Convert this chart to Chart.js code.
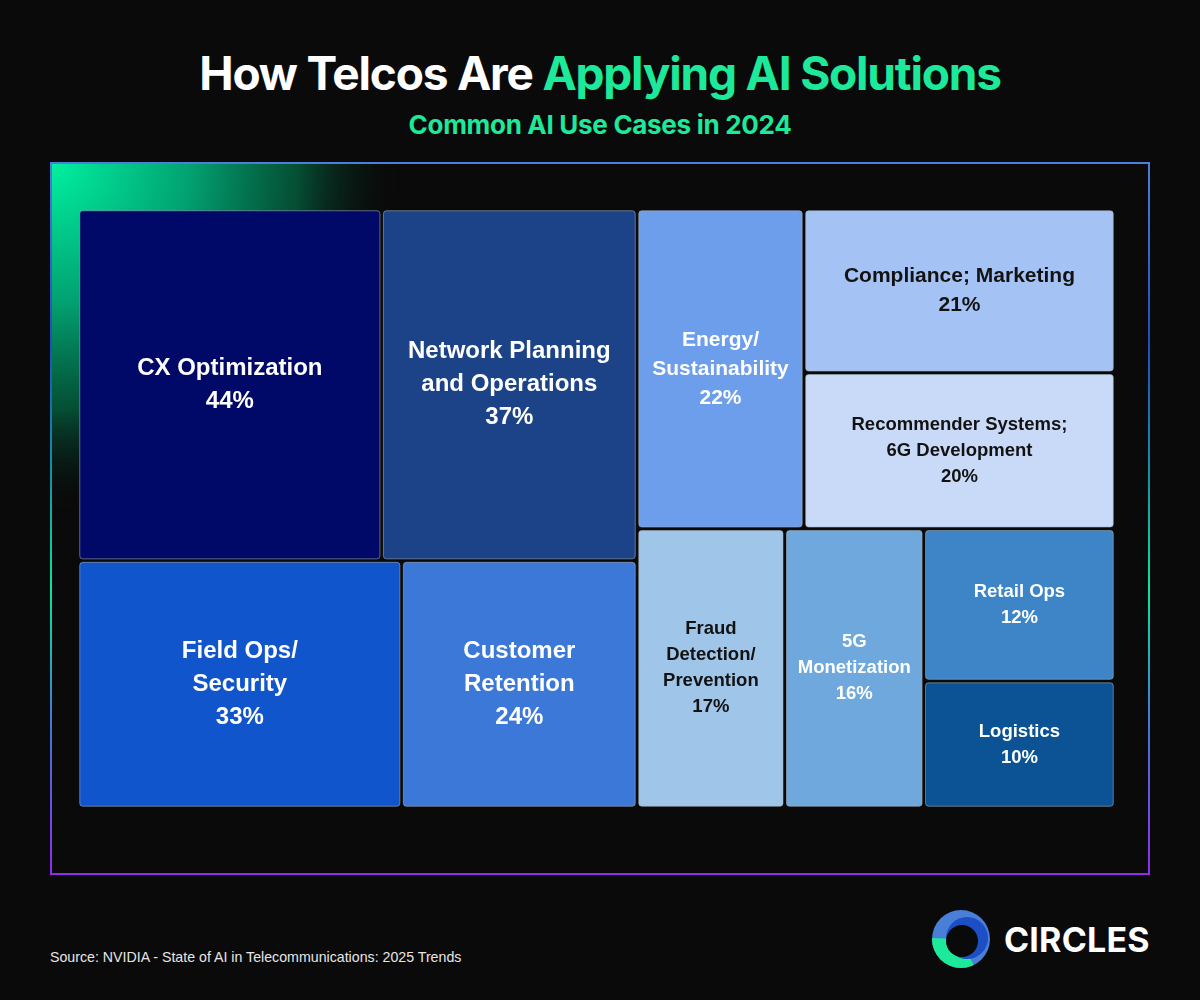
<!DOCTYPE html>
<html>
<head>
<meta charset="utf-8">
<script src="https://cdn.jsdelivr.net/npm/chart.js@4"></script>
<style>
  body { margin: 0; background: #0a0a0a; width: 1200px; height: 1000px; position: relative; overflow: hidden; }
  .title { position: absolute; left: 0; width: 1200px; top: 44px; text-align: center; font-family: Inter, sans-serif; font-weight: 700; font-size: 46px; letter-spacing: -1.2px; color: #fff; line-height: 58px; }
  .title span { color: #1de99b; }
  .subtitle { position: absolute; left: 0; width: 1200px; top: 108px; text-align: center; font-family: Inter, sans-serif; font-weight: 700; font-size: 26px; letter-spacing: -0.3px; color: #1de99b; line-height: 34px; }
  #wrap { position: absolute; left: 50px; top: 162px; width: 1100px; height: 713px; }
  .source { position: absolute; left: 50px; top: 949px; font-family: "Liberation Sans", Arial, sans-serif; font-size: 14.2px; color: #e6e6e6; }
  .logo { position: absolute; left: 930px; top: 908px; height: 62px; display: flex; align-items: center; }
  .logo span { font-family: Inter, sans-serif; font-weight: 700; font-size: 34px; color: #fff; margin-left: 12px; letter-spacing: 0.2px; }
</style>
</head>
<body>
<div class="title">How Telcos Are <span>Applying AI Solutions</span></div>
<div class="subtitle">Common AI Use Cases in 2024</div>
<div id="wrap"><canvas id="treemapChart"></canvas></div>
<div class="source">Source: NVIDIA - State of AI in Telecommunications: 2025 Trends</div>
<div class="logo">
  <svg width="62" height="62" viewBox="0 0 62 62">
    <defs><clipPath id="bl"><path d="M0 30 L31 31 L46 62 L0 62 Z"/></clipPath></defs>
    <circle cx="31" cy="31" r="29" fill="#4a7fd8"/>
    <circle cx="31" cy="31" r="29" fill="#1de99b" clip-path="url(#bl)"/>
    <circle cx="37" cy="30" r="21" fill="#1c4fc4"/>
    <circle cx="32" cy="33" r="16" fill="#0a0a0a"/>
  </svg>
  <span>CIRCLES</span>
</div>

<script>
document.addEventListener("DOMContentLoaded", function () {

    // data
    const categories = [
        ["CX Optimization"],
        ["Network Planning", "and Operations"],
        ["Field Ops/", "Security"],
        ["Customer", "Retention"],
        ["Energy/", "Sustainability"],
        ["Compliance; Marketing"],
        ["Recommender Systems;", "6G Development"],
        ["Fraud", "Detection/", "Prevention"],
        ["5G", "Monetization"],
        ["Retail Ops"],
        ["Logistics"]
    ];
    const shares = [44, 37, 33, 24, 22, 21, 20, 17, 16, 12, 10];
    // grouping of the cells (indices into categories), split alternately along x and y
    const groups = [[[0, 1], [2, 3]], [[4, [5, 6]], [7, 8, [9, 10]]]];

    const colors = ["#000868", "#1c4388", "#1155cc", "#3c78d8", "#6d9eeb", "#a4c2f4",
                    "#c9daf8", "#9fc5e8", "#6fa8dc", "#3d85c6", "#0b5394"];
    const darkText = [5, 6, 7];

    // slice-and-dice layout in data units (0..1 on both axes)
    function weight(node) {
        return Array.isArray(node) ? node.reduce((s, n) => s + weight(n), 0) : shares[node];
    }
    function layout(node, x0, y0, x1, y1, depth, out) {
        if (!Array.isArray(node)) { out[node] = { x0, y0, x1, y1 }; return out; }
        const total = weight(node);
        let pos = depth % 2 === 0 ? x0 : y0;
        node.forEach(child => {
            const f = weight(child) / total;
            if (depth % 2 === 0) {
                const w = (x1 - x0) * f;
                layout(child, pos, y0, pos + w, y1, depth + 1, out);
                pos += w;
            } else {
                const h = (y1 - y0) * f;
                layout(child, x0, pos, x1, pos + h, depth + 1, out);
                pos += h;
            }
        });
        return out;
    }
    const cells = layout(groups, 0, 0, 1, 1, 0, []);

    // frame + corner glow
    const framePlugin = {
        id: "frame",
        beforeDraw(chart) {
            const ctx = chart.ctx, w = chart.width, h = chart.height;
            ctx.save();
            const glow = ctx.createRadialGradient(2, 2, 0, 2, 2, 350);
            glow.addColorStop(0, "rgba(0,240,160,1)");
            glow.addColorStop(0.4, "rgba(2,160,112,1)");
            glow.addColorStop(0.7, "rgba(5,87,58,0.9)");
            glow.addColorStop(1, "rgba(10,10,10,0)");
            ctx.fillStyle = glow;
            ctx.fillRect(2, 2, 360, 360);

            ctx.lineWidth = 2;
            const side = ctx.createLinearGradient(0, 0, 0, h);
            side.addColorStop(0, "#4a80d8");
            side.addColorStop(0.25, "#1d4fc0");
            side.addColorStop(0.45, "#1296a8");
            side.addColorStop(0.6, "#00e8a0");
            side.addColorStop(0.77, "#3d80d2");
            side.addColorStop(1, "#8f2cf0");
            ctx.strokeStyle = side;
            ctx.beginPath();
            ctx.moveTo(1, 0); ctx.lineTo(1, h);
            ctx.moveTo(w - 1, 0); ctx.lineTo(w - 1, h);
            ctx.stroke();
            ctx.strokeStyle = "#4a80d8";
            ctx.beginPath(); ctx.moveTo(0, 1); ctx.lineTo(w, 1); ctx.stroke();
            ctx.strokeStyle = "#8f2cf0";
            ctx.beginPath(); ctx.moveTo(0, h - 1); ctx.lineTo(w, h - 1); ctx.stroke();
            ctx.restore();
        }
    };

    // cells + labels drawn through the chart scales
    const treemapPlugin = {
        id: "treemap",
        afterDatasetsDraw(chart) {
            const ctx = chart.ctx, xs = chart.scales.x, ys = chart.scales.y;
            const gap = 1.75;
            ctx.save();
            cells.forEach((c, i) => {
                const left = xs.getPixelForValue(c.x0) + gap;
                const right = xs.getPixelForValue(c.x1) - gap;
                const top = ys.getPixelForValue(c.y0) + gap;
                const bottom = ys.getPixelForValue(c.y1) - gap;
                ctx.beginPath();
                ctx.roundRect(left, top, right - left, bottom - top, 3);
                ctx.fillStyle = colors[i];
                ctx.fill();
                ctx.lineWidth = 1;
                ctx.strokeStyle = "rgba(170,180,195,0.55)";
                ctx.stroke();

                const v = shares[i];
                const size = v >= 24 ? 24 : v >= 21 ? 21 : 18.5;
                const lh = v >= 24 ? 33 : v >= 21 ? 29 : 26;
                const lines = categories[i].concat([v + "%"]);
                ctx.font = "bold " + size + "px 'Liberation Sans', Arial, sans-serif";
                ctx.fillStyle = darkText.includes(i) ? "#121212" : "#ffffff";
                ctx.textAlign = "center";
                ctx.textBaseline = "middle";
                const cx = (left + right) / 2, cy = (top + bottom) / 2;
                const start = cy - (lines.length - 1) * lh / 2;
                lines.forEach((t, k) => ctx.fillText(t, cx, start + k * lh));
            });
            ctx.restore();
        }
    };

    const canvas = document.getElementById("treemapChart");
    new Chart(canvas, {
        type: "scatter",
        data: {
            datasets: [{
                label: "Share of telcos",
                data: cells.map(c => ({ x: (c.x0 + c.x1) / 2, y: (c.y0 + c.y1) / 2 })),
                pointRadius: 0,
                pointHitRadius: 60
            }]
        },
        options: {
            responsive: true,
            maintainAspectRatio: false,
            animation: false,
            layout: { padding: { left: 28, right: 35, top: 47, bottom: 67 } },
            scales: {
                x: { type: "linear", min: 0, max: 1, display: false },
                y: { type: "linear", min: 0, max: 1, reverse: true, display: false }
            },
            plugins: {
                legend: { display: false },
                tooltip: {
                    callbacks: {
                        label: (item) => categories[item.dataIndex].join(" ") + ": " + shares[item.dataIndex] + "%"
                    }
                }
            }
        },
        plugins: [framePlugin, treemapPlugin]
    });

});
</script>
</body>
</html>
